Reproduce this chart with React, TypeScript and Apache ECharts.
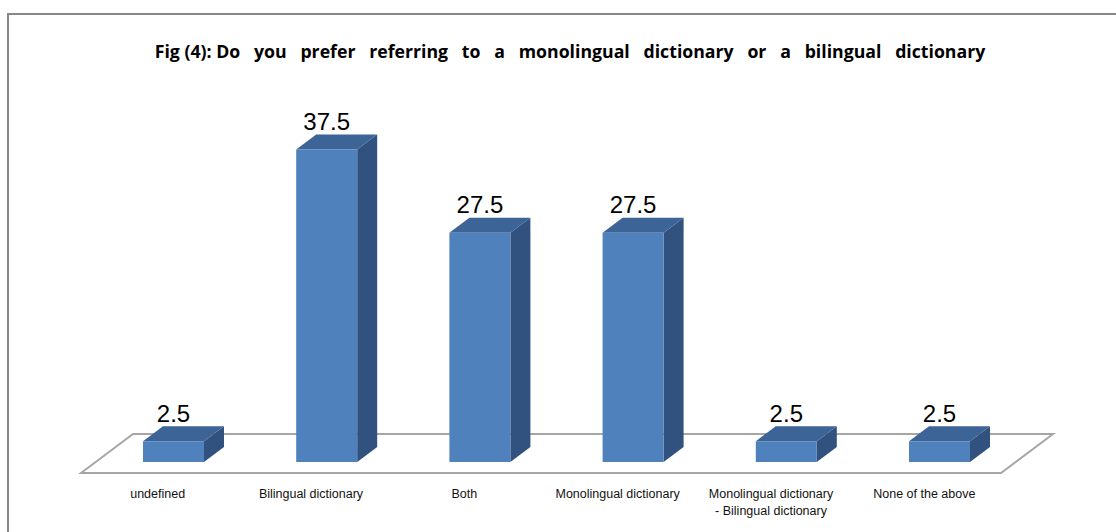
import React, { useEffect, useRef } from "react";
import * as echarts from "echarts";

const categories = [
  "undefined",
  "Bilingual dictionary",
  "Both",
  "Monolingual dictionary",
  "Monolingual dictionary\n- Bilingual dictionary",
  "None of the above",
];
const values = [2.5, 37.5, 27.5, 27.5, 2.5, 2.5];
const titleHead = "Fig (4): Do";
const titleWords = [
  "you", "prefer", "referring", "to", "a", "monolingual",
  "dictionary", "or", "a", "bilingual", "dictionary",
];

const FRONT = "#4F81BD";
const TOP = "#3D6496";
const SIDE = "#31527E";

export default function App() {
  const ref = useRef<HTMLDivElement>(null);
  useEffect(() => {
    if (!ref.current) return;
    const chart = echarts.init(ref.current, null, { renderer: "svg" });
    const barW = 61;
    const dx = 20;
    const dy = 15;
    const titleText = [titleHead, ...titleWords].join("   ");
    chart.setOption({
      animation: false,
      backgroundColor: "#ffffff",
      title: {
        text: titleText,
        left: 565,
        top: 37,
        textAlign: "center",
        textStyle: {
          fontFamily: "Open Sans",
          fontWeight: "bold",
          fontSize: 17.7,
          color: "#000",
        },
      },
      grid: [
        { left: 96.9, width: 919.2, top: 128.7, height: 333.3 },
        { left: 81, width: 920, top: 400, height: 73 },
      ],
      xAxis: [
        {
          type: "category",
          gridIndex: 0,
          data: categories,
          show: false,
        },
        {
          type: "category",
          gridIndex: 1,
          data: categories,
          axisLine: { show: false },
          axisTick: { show: false },
          splitLine: { show: false },
          axisLabel: {
            interval: 0,
            margin: 12,
            fontFamily: "Liberation Sans",
            fontSize: 12.5,
            lineHeight: 17,
            color: "#111",
          },
        },
      ],
      yAxis: [
        { type: "value", gridIndex: 0, min: 0, max: 40, show: false },
        { type: "value", gridIndex: 1, show: false },
      ],
      graphic: [
        {
          type: "polyline",
          shape: { points: [[8, 540], [8, 14], [1120, 14]] },
          style: { stroke: "#878787", lineWidth: 2, fill: null },
          z: 0,
        },
        {
          type: "polygon",
          shape: { points: [[81, 473], [133, 434], [1053, 434], [1001, 473]] },
          style: { stroke: "#A6A6A6", lineWidth: 2, fill: "#ffffff" },
          z: 0,
        },
      ],
      series: [
        {
          type: "custom",
          xAxisIndex: 0,
          yAxisIndex: 0,
          z: 5,
          data: values.map((v, i) => [i, v]),
          renderItem: (params: any, api: any) => {
            const i = api.value(0);
            const v = api.value(1);
            const top = api.coord([i, v]);
            const base = api.coord([i, 0]);
            const x0 = top[0] - barW / 2;
            const yT = top[1];
            const yB = base[1];
            return {
              type: "group",
              children: [
                {
                  type: "polygon",
                  shape: {
                    points: [
                      [x0 + barW, yT],
                      [x0 + barW + dx, yT - dy],
                      [x0 + barW + dx, yB - dy],
                      [x0 + barW, yB],
                    ],
                  },
                  style: { fill: SIDE },
                },
                {
                  type: "polygon",
                  shape: {
                    points: [
                      [x0, yT],
                      [x0 + dx, yT - dy],
                      [x0 + barW + dx, yT - dy],
                      [x0 + barW, yT],
                    ],
                  },
                  style: { fill: TOP },
                },
                {
                  type: "rect",
                  shape: { x: x0, y: yT, width: barW, height: yB - yT },
                  style: { fill: FRONT },
                },
                {
                  type: "text",
                  x: x0 + barW / 2,
                  y: yT - dy - 1,
                  z2: 10,
                  style: {
                    text: String(v),
                    fontFamily: "Liberation Sans",
                    fontSize: 24,
                    fill: "#000",
                    align: "center",
                    verticalAlign: "bottom",
                  },
                },
              ],
            };
          },
        },
      ],
    });
    return () => chart.dispose();
  }, []);
  return (
    <div
      ref={ref}
      style={{ position: "fixed", left: 0, top: 0, width: 1116, height: 532 }}
    />
  );
}
